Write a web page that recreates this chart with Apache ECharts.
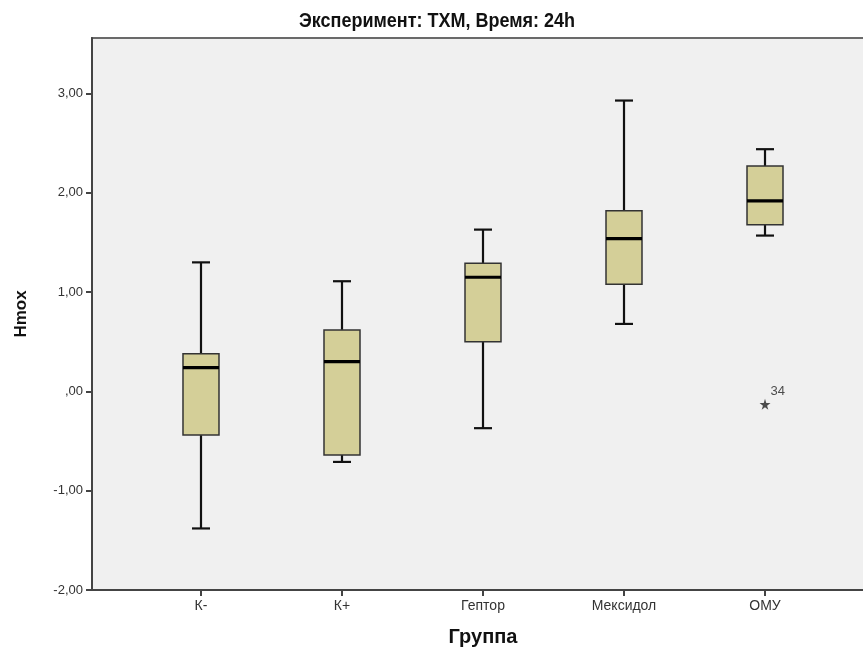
<!DOCTYPE html>
<html>
<head>
<meta charset="utf-8">
<script src="https://cdn.jsdelivr.net/npm/echarts@6/dist/echarts.min.js"></script>
<style>
  html, body { margin: 0; padding: 0; background: #ffffff; }
  #chart { width: 863px; height: 651px; }
</style>
</head>
<body>
<div id="chart"></div>
<script>
// Group names along the horizontal axis
const categories = ['К-', 'К+', 'Гептор', 'Мексидол', 'ОМУ'];

// Five-number summaries per group (whisker ends, quartiles, median)
const whiskerLow  = [-1.38, -0.71, -0.37, 0.68, 1.57];
const quartile1   = [-0.44, -0.64,  0.50, 1.08, 1.68];
const medians     = [ 0.24,  0.30,  1.15, 1.54, 1.92];
const quartile3   = [ 0.38,  0.62,  1.29, 1.82, 2.27];
const whiskerHigh = [ 1.30,  1.11,  1.63, 2.93, 2.44];

// Extreme value marked with an asterisk and its case number
const extremeGroup = [4];
const extremeValue = [-0.13];
const extremeCase  = ['34'];

// Vertical axis ticks
const yTicks = [-2, -1, 0, 1, 2, 3];

const chartTitle = 'Эксперимент: ТХМ, Время: 24h';

const boxData = categories.map((c, i) => [i, whiskerLow[i], quartile1[i], medians[i], quartile3[i], whiskerHigh[i]]);
const extremeData = extremeGroup.map((g, i) => ({ value: [g, extremeValue[i]], caseId: extremeCase[i] }));

const sans = '"Liberation Sans", Arial, sans-serif';

function fmtComma(v) {
  const s = Math.abs(v).toFixed(2).replace('.', ',');
  const body = Math.abs(v) < 1 ? s.replace(/^0/, '') : s;
  return (v < 0 ? '-' : '') + body;
}

const BOX_W = 36;
const CAP_W = 18;

function renderBox(params, api) {
  const x = api.value(0);
  const pLow = api.coord([x, api.value(1)]);
  const pQ1 = api.coord([x, api.value(2)]);
  const pMed = api.coord([x, api.value(3)]);
  const pQ3 = api.coord([x, api.value(4)]);
  const pHigh = api.coord([x, api.value(5)]);
  const cx = pMed[0];
  const whisk = { stroke: '#111', lineWidth: 2.2 };
  return {
    type: 'group',
    children: [
      { type: 'line', shape: { x1: cx, y1: pQ3[1], x2: cx, y2: pHigh[1] }, style: whisk },
      { type: 'line', shape: { x1: cx - CAP_W / 2, y1: pHigh[1], x2: cx + CAP_W / 2, y2: pHigh[1] }, style: whisk },
      { type: 'line', shape: { x1: cx, y1: pQ1[1], x2: cx, y2: pLow[1] }, style: whisk },
      { type: 'line', shape: { x1: cx - CAP_W / 2, y1: pLow[1], x2: cx + CAP_W / 2, y2: pLow[1] }, style: whisk },
      { type: 'rect', shape: { x: cx - BOX_W / 2, y: pQ3[1], width: BOX_W, height: pQ1[1] - pQ3[1] },
        style: { fill: '#d4cf98', stroke: '#333', lineWidth: 1.5 } },
      { type: 'line', shape: { x1: cx - BOX_W / 2, y1: pMed[1], x2: cx + BOX_W / 2, y2: pMed[1] },
        style: { stroke: '#000', lineWidth: 3.2 } }
    ]
  };
}

const chart = echarts.init(document.getElementById('chart'), null, { renderer: 'canvas' });

chart.setOption({
  backgroundColor: '#ffffff',
  animation: false,
  graphic: [
    {
      // condensed bold heading
      type: 'text',
      x: 437, y: 21,
      scaleX: 0.9,
      style: {
        text: chartTitle,
        font: 'bold 20px "Liberation Sans", Arial, sans-serif',
        fill: '#111',
        textAlign: 'center',
        textVerticalAlign: 'middle'
      }
    }
  ],
  grid: {
    left: 92, top: 38, width: 782, height: 552,
    show: true, backgroundColor: '#f0f0f0', borderColor: '#6a6a6a', borderWidth: 2,
    outerBoundsMode: 'none'
  },
  xAxis: {
    type: 'value',
    min: -0.773, max: 4.773,
    name: 'Группа',
    nameLocation: 'middle',
    nameGap: 37,
    nameTextStyle: { fontFamily: sans, fontSize: 20, fontWeight: 'bold', color: '#111' },
    axisLine: { show: true, onZero: false, lineStyle: { color: '#444', width: 2 } },
    axisTick: { show: true, length: 6, customValues: categories.map((c, i) => i), lineStyle: { color: '#444', width: 2 } },
    axisLabel: {
      customValues: categories.map((c, i) => i),
      formatter: v => categories[Math.round(v)] || '',
      fontFamily: sans, fontSize: 14, color: '#333', margin: 9
    },
    splitLine: { show: false }
  },
  yAxis: {
    type: 'value',
    min: -2, max: 3.56, interval: 1,
    name: 'Hmox',
    nameLocation: 'middle',
    nameGap: 62,
    nameRotate: 90,
    nameTextStyle: { fontFamily: sans, fontSize: 17, fontWeight: 'bold', color: '#111' },
    axisLine: { show: true, onZero: false, lineStyle: { color: '#444', width: 2 } },
    axisTick: { show: true, length: 6, customValues: yTicks, lineStyle: { color: '#444', width: 2 } },
    axisLabel: {
      customValues: yTicks,
      formatter: v => fmtComma(v),
      fontFamily: sans, fontSize: 13, color: '#333', margin: 9
    },
    splitLine: { show: false }
  },
  series: [
    {
      type: 'custom',
      renderItem: renderBox,
      data: boxData,
      encode: { x: 0, y: [1, 2, 3, 4, 5] },
      silent: true
    },
    {
      type: 'scatter',
      data: extremeData,
      symbol: 'path://M50,0 L61,35 L98,35 L68,57 L79,91 L50,70 L21,91 L32,57 L2,35 L39,35 Z',
      symbolSize: 11,
      itemStyle: { color: '#222' },
      label: {
        show: true,
        position: [11, -14],
        formatter: p => p.data.caseId,
        fontFamily: sans, fontSize: 13, color: '#222'
      },
      silent: true
    }
  ]
});
</script>
</body>
</html>
